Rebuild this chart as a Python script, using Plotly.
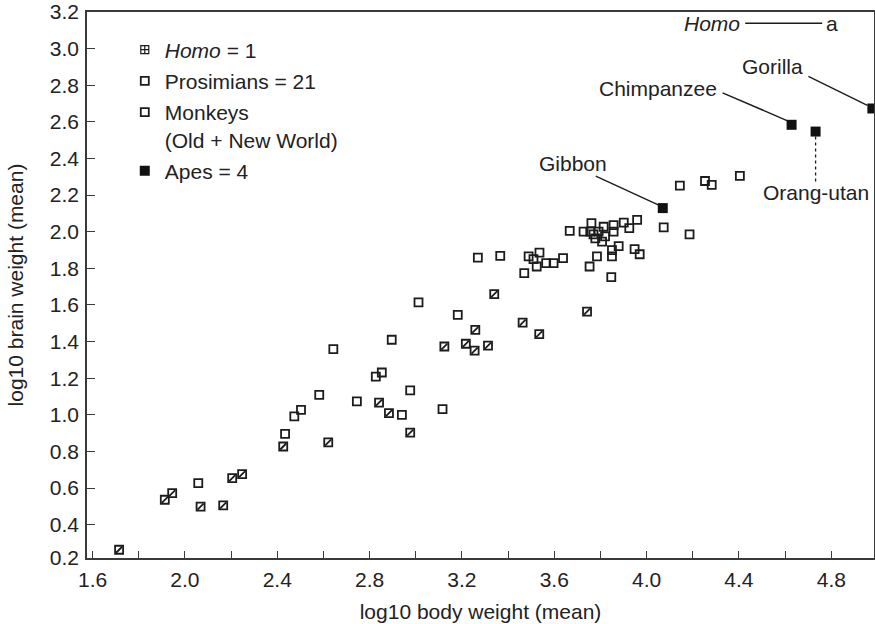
import plotly.graph_objects as go

# ---------------- data ----------------
x_title = "log10 body weight (mean)"
y_title = "log10 brain weight (mean)"

x_range = [1.576, 4.985]
y_range = [0.218, 3.2]
x_tick_vals = [1.6, 2.0, 2.4, 2.8, 3.2, 3.6, 4.0, 4.4, 4.8]
x_tick_text = ["1.6", "2.0", "2.4", "2.8", "3.2", "3.6", "4.0", "4.4", "4.8"]
x_minor_vals = [1.8, 2.2, 2.6, 3.0, 3.4, 3.8, 4.2, 4.6]
y_tick_vals = [0.2, 0.4, 0.6, 0.8, 1.0, 1.2, 1.4, 1.6, 1.8, 2.0, 2.2, 2.4, 2.6, 2.8, 3.0, 3.2]
y_tick_text = ["0.2", "0.4", "0.6", "0.8", "1.0", "1.2", "1.4", "1.6", "1.8", "2.0",
               "2.2", "2.4", "2.6", "2.8", "3.0", "3.2"]

prosimian_x = [1.715, 1.913, 1.945, 2.068, 2.166, 2.205, 2.248, 2.426, 2.621, 2.841, 2.884,
               2.976, 3.124, 3.217, 3.255, 3.258, 3.313, 3.340, 3.463, 3.535, 3.742]
prosimian_y = [0.263, 0.536, 0.572, 0.499, 0.505, 0.654, 0.676, 0.827, 0.849, 1.067, 1.009,
               0.903, 1.373, 1.388, 1.351, 1.464, 1.378, 1.659, 1.504, 1.441, 1.564]

monkey_x = [2.058, 2.434, 2.474, 2.503, 2.582, 2.643, 2.745, 2.827, 2.853, 2.896, 2.940,
            2.976, 3.012, 3.116, 3.182, 3.269, 3.366, 3.470, 3.489, 3.510, 3.524, 3.536,
            3.565, 3.597, 3.638, 3.667, 3.727, 3.753, 3.756, 3.761, 3.770, 3.778, 3.785,
            3.792, 3.807, 3.814, 3.820, 3.847, 3.850, 3.850, 3.857, 3.857, 3.879, 3.901,
            3.925, 3.948, 3.959, 3.970, 4.074, 4.144, 4.186, 4.253, 4.282, 4.404]
monkey_y = [0.627, 0.896, 0.991, 1.027, 1.109, 1.359, 1.073, 1.209, 1.231, 1.410, 1.000,
            1.133, 1.614, 1.031, 1.546, 1.859, 1.868, 1.774, 1.865, 1.850, 1.810, 1.886,
            1.829, 1.829, 1.856, 2.005, 2.000, 1.810, 2.000, 2.047, 1.985, 1.964, 1.865,
            2.000, 1.946, 2.027, 1.975, 1.752, 1.900, 1.865, 2.036, 2.000, 1.921, 2.050,
            2.020, 1.905, 2.065, 1.877, 2.024, 2.252, 1.986, 2.277, 2.256, 2.305]

ape_names = ["Gibbon", "Chimpanzee", "Orang-utan", "Gorilla"]
ape_x = [4.070, 4.628, 4.732, 4.978]
ape_y = [2.129, 2.584, 2.547, 2.673]

homo_x = [4.804]
homo_y = [3.138]
homo_label = "Homo"
homo_mark = "a"

legend_names = ["<i>Homo</i> = 1", "Prosimians = 21", "Monkeys<br>(Old + New World)", "Apes = 4"]

# ---------------- styling ----------------
FONT = "Liberation Sans, Arial, Helvetica, sans-serif"
INK = "#1c1c1c"
TXT = "#222222"
AX = "#3a3a3a"
FS = 21

# pixel offsets (dx right, dy up) relative to each ape point
label_shift = {"Gibbon": (-90, 45), "Chimpanzee": (-134, 36),
               "Orang-utan": (0, -61), "Gorilla": (-100, 42)}
connector = {"Gibbon": ((-67, 32), (-4, 3), "solid", 1.4),
             "Chimpanzee": ((-69, 32), (-4, 4), "solid", 1.4),
             "Orang-utan": ((0, -5), (0, -51), "dot", 1.3),
             "Gorilla": ((-64, 32), (-5, 3), "solid", 1.4)}

# y tick positions clamped to the visible range (0.2 label sits on the x axis line)
y_tick_pos = [max(v, y_range[0]) for v in y_tick_vals]

fig = go.Figure()

fig.add_trace(go.Scatter(
    x=homo_x, y=homo_y, mode="markers", name=legend_names[0], legendrank=1,
    marker=dict(symbol="square-cross-open", size=8, color=INK, line=dict(width=1.2, color=INK)),
    selectedpoints=[], unselected=dict(marker=dict(opacity=0)),
    hoverinfo="skip"))

fig.add_trace(go.Scatter(
    x=monkey_x, y=monkey_y, mode="markers", name=legend_names[2], legendrank=3,
    marker=dict(symbol="square-open", size=8, color=INK, line=dict(width=1.8, color=INK))))

fig.add_trace(go.Scatter(
    x=prosimian_x, y=prosimian_y, mode="markers", name=legend_names[1], legendrank=2,
    legendgroup="pro",
    marker=dict(symbol="square-open", size=8, color=INK, line=dict(width=1.8, color=INK))))
fig.add_trace(go.Scatter(
    x=prosimian_x, y=prosimian_y, mode="markers", showlegend=False, legendgroup="pro",
    marker=dict(symbol="line-ne", size=6, color=INK, line=dict(width=1.8, color=INK))))

fig.add_trace(go.Scatter(
    x=ape_x, y=ape_y, mode="markers", name=legend_names[3], legendrank=4,
    marker=dict(symbol="square", size=10, color="#111111", line=dict(width=0))))

shapes = []
annotations = []
for name, xv, yv in zip(ape_names, ape_x, ape_y):
    dx, dy = label_shift[name]
    annotations.append(dict(x=xv, y=yv, xref="x", yref="y", text=name, showarrow=False,
                            xshift=dx, yshift=dy, font=dict(family=FONT, size=FS, color=TXT)))
    (x0, y0), (x1, y1), dash, w = connector[name]
    shapes.append(dict(type="line", xref="x", yref="y", xsizemode="pixel", ysizemode="pixel",
                       xanchor=xv, yanchor=yv, x0=x0, y0=y0, x1=x1, y1=y1,
                       line=dict(color=INK, width=w, dash=dash)))

# Homo label, its leader line and the "a" mark at the Homo point
annotations.append(dict(x=homo_x[0], y=homo_y[0], xref="x", yref="y", text=homo_mark,
                        showarrow=False, font=dict(family=FONT, size=FS, color=TXT)))
annotations.append(dict(x=homo_x[0], y=homo_y[0], xref="x", yref="y",
                        text="<i>" + homo_label + "</i>", showarrow=False, xshift=-120,
                        font=dict(family=FONT, size=FS, color=TXT)))
shapes.append(dict(type="line", xref="x", yref="y", xsizemode="pixel", ysizemode="pixel",
                   xanchor=homo_x[0], yanchor=homo_y[0], x0=-87, y0=0, x1=-10, y1=0,
                   line=dict(color=INK, width=1.5)))

fig.update_layout(
    width=875, height=624,
    margin=dict(l=87, r=1, t=12, b=66, pad=0),
    paper_bgcolor="white", plot_bgcolor="white",
    font=dict(family=FONT, size=FS, color=TXT),
    showlegend=True,
    legend=dict(x=0.048, y=0.968, xanchor="left", yanchor="top",
                bgcolor="rgba(0,0,0,0)", borderwidth=0, itemwidth=30, valign="top",
                tracegroupgap=1,
                font=dict(family=FONT, size=FS, color=TXT), itemclick=False),
    shapes=shapes, annotations=annotations,
    hovermode=False,
)

fig.update_xaxes(
    range=x_range, showgrid=False, zeroline=False,
    showline=True, linecolor=AX, linewidth=1.5, mirror=True,
    tickmode="array", tickvals=x_tick_vals, ticktext=x_tick_text,
    ticks="inside", ticklen=7, tickwidth=1.3, tickcolor=AX,
    minor=dict(tickmode="array", tickvals=x_minor_vals, ticks="inside", ticklen=7,
               tickwidth=1.3, tickcolor=AX, showgrid=False),
    tickfont=dict(family=FONT, size=FS, color=TXT), ticklabelstandoff=2,
    title=dict(text=x_title, font=dict(family=FONT, size=FS, color=TXT), standoff=14),
    automargin=False,
)
fig.update_yaxes(
    range=y_range, showgrid=False, zeroline=False,
    showline=True, linecolor=AX, linewidth=1.5, mirror=True,
    tickmode="array", tickvals=y_tick_pos, ticktext=y_tick_text,
    ticks="inside", ticklen=8, tickwidth=1.3, tickcolor=AX,
    tickfont=dict(family=FONT, size=FS, color=TXT), ticklabelstandoff=2,
    title=dict(text=y_title, font=dict(family=FONT, size=FS, color=TXT), standoff=20),
    automargin=False,
)

fig.write_html("out.html", config={"displayModeBar": False},
               post_script="document.body.style.margin='0px';")
